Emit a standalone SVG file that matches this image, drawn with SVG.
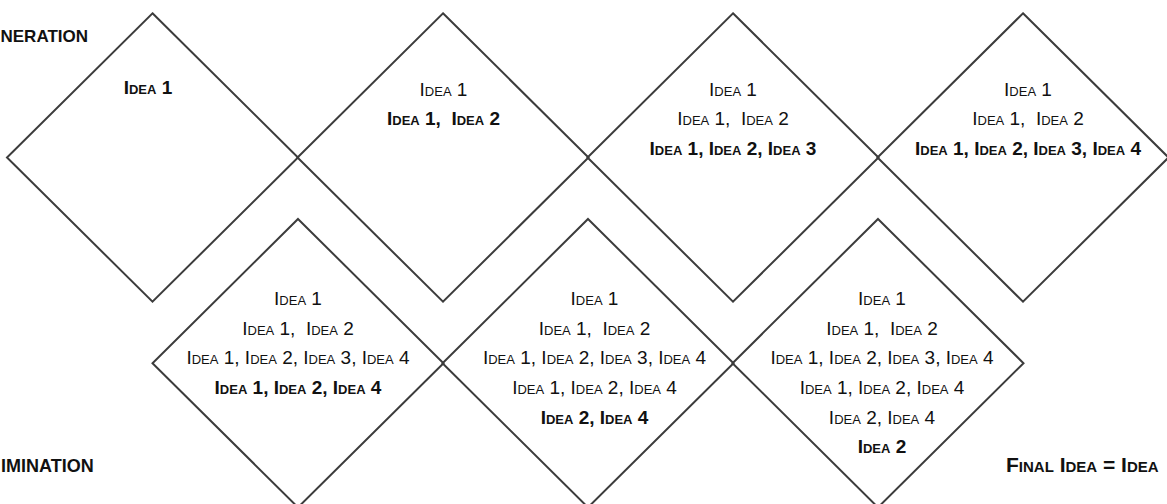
<svg xmlns="http://www.w3.org/2000/svg" width="1167" height="504" viewBox="0 0 1167 504">
<style>
.d{fill:none;stroke:#3c3c3c;stroke-width:2;stroke-linejoin:miter}
text{font-family:"Liberation Sans",Arial,sans-serif;font-size:19px;fill:#111;text-anchor:middle;font-variant:small-caps;white-space:pre}
.b{font-weight:bold}
.lbl{font-weight:bold;font-size:17px;font-variant:normal;text-anchor:start}
.fin{font-weight:bold;font-size:21px;text-anchor:start}
</style>
<defs>
<path id="dm" d="M0,-144.2 L145.5,0 L0,144.2 L-145.5,0 Z"/>
</defs>
<rect width="1167" height="504" fill="#fff"/>
<g id="connectors"></g>
<g id="label-generation"><text class="lbl" x="0.5" y="42">NERATION</text></g>
<g id="label-elimination"><text class="lbl" x="1" y="472" style="font-size:18px">IMINATION</text></g>
<g id="label-final"><text class="fin" x="1006" y="472" xml:space="preserve">Final Idea = Idea</text></g>

<g id="node1">
<use href="#dm" class="d" x="152.5" y="157.5"/>
<text class="b" x="148" y="94">Idea 1</text>
</g>
<g id="node2">
<use href="#dm" class="d" x="443" y="157.5"/>
<text x="443.5" y="95.5">Idea 1</text>
<text class="b" x="443.5" y="125" xml:space="preserve">Idea 1,  Idea 2</text>
</g>
<g id="node3">
<use href="#dm" class="d" x="733" y="157.5"/>
<text x="733" y="95.5">Idea 1</text>
<text x="733" y="125" xml:space="preserve">Idea 1,  Idea 2</text>
<text class="b" x="733" y="154.5">Idea 1, Idea 2, Idea 3</text>
</g>
<g id="node4">
<use href="#dm" class="d" x="1023" y="157.5"/>
<text x="1028" y="95.5">Idea 1</text>
<text x="1028" y="125" xml:space="preserve">Idea 1,  Idea 2</text>
<text class="b" x="1028" y="154.5">Idea 1, Idea 2, Idea 3, Idea 4</text>
</g>
<g id="node5">
<use href="#dm" class="d" x="298" y="363.2"/>
<text x="298" y="305">Idea 1</text>
<text x="298" y="334.7" xml:space="preserve">Idea 1,  Idea 2</text>
<text x="298" y="364.3">Idea 1, Idea 2, Idea 3, Idea 4</text>
<text class="b" x="298" y="394">Idea 1, Idea 2, Idea 4</text>
</g>
<g id="node6">
<use href="#dm" class="d" x="588" y="363.2"/>
<text x="594.5" y="305">Idea 1</text>
<text x="594.5" y="334.7" xml:space="preserve">Idea 1,  Idea 2</text>
<text x="594.5" y="364.3">Idea 1, Idea 2, Idea 3, Idea 4</text>
<text x="594.5" y="394">Idea 1, Idea 2, Idea 4</text>
<text class="b" x="594.5" y="423.7">Idea 2, Idea 4</text>
</g>
<g id="node7">
<use href="#dm" class="d" x="878" y="363.2"/>
<text x="882" y="305">Idea 1</text>
<text x="882" y="334.7" xml:space="preserve">Idea 1,  Idea 2</text>
<text x="882" y="364.3">Idea 1, Idea 2, Idea 3, Idea 4</text>
<text x="882" y="394">Idea 1, Idea 2, Idea 4</text>
<text x="882" y="423.7">Idea 2, Idea 4</text>
<text class="b" x="882" y="453.3">Idea 2</text>
</g>
</svg>
